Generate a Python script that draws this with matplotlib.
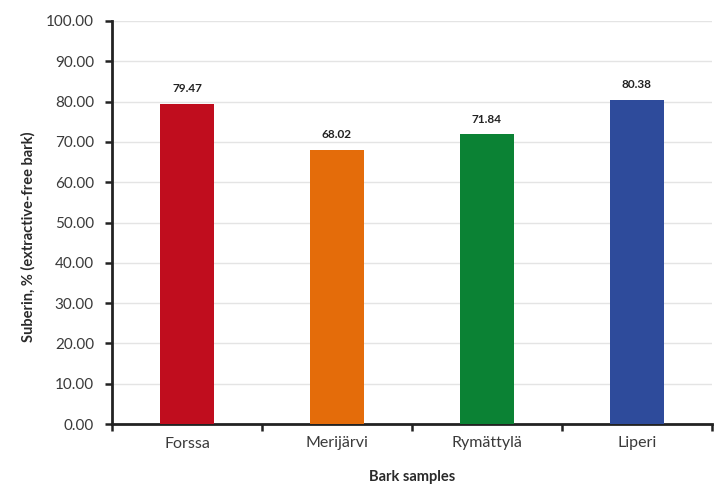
import matplotlib
matplotlib.use("Agg")
import matplotlib.pyplot as plt
from matplotlib.ticker import FixedLocator, NullFormatter

categories = ["Forssa", "Merijärvi", "Rymättylä", "Liperi"]
values = [79.47, 68.02, 71.84, 80.38]
colors = ["#C00D1E", "#E46C0A", "#0B8234", "#2E4B9B"]
y_ticks = [0, 10, 20, 30, 40, 50, 60, 70, 80, 90, 100]

plt.rcParams['font.family'] = ['Lato', 'DejaVu Sans']

fig = plt.figure(figsize=(7.19, 4.88), dpi=100)
ax = fig.add_axes([112/719, 1-424/488, 600/719, 403/488])

x = list(range(len(categories)))
bars = ax.bar(x, values, width=0.36, color=colors, zorder=3)
for xi, v in zip(x, values):
    ax.text(xi, v + 2.4, f"{v:.2f}", ha="center", va="bottom", fontsize=8.5, fontweight="bold", color="#222222")

ax.set_xlim(-0.5, len(categories) - 0.5)
ax.set_ylim(0, 100)
ax.set_yticks(y_ticks)
ax.set_yticklabels([f"{t:.2f}" for t in y_ticks], fontsize=11, color="#3A3A3A")
ax.set_xticks(x)
ax.set_xticklabels(categories, fontsize=11.5, color="#3A3A3A")
ax.tick_params(axis="x", which="major", length=0, pad=9)
ax.xaxis.set_minor_locator(FixedLocator([i - 0.5 for i in range(len(categories) + 1)]))
ax.xaxis.set_minor_formatter(NullFormatter())
ax.tick_params(axis="x", which="minor", length=5, width=1.8, color="#222222")
ax.tick_params(axis="y", length=5, width=1.8, color="#222222", pad=8)

ax.grid(axis="y", color="#E4E4E4", linewidth=1, zorder=0)
for s in ["top", "right"]:
    ax.spines[s].set_visible(False)
for s in ["left", "bottom"]:
    ax.spines[s].set_linewidth(2)
    ax.spines[s].set_color("#222222")

ax.set_ylabel("Suberin, % (extractive-free bark)", fontsize=10.5, fontweight="bold", color="#2A2A2A")
ax.yaxis.set_label_coords(-0.128, 0.464)
ax.set_xlabel("Bark samples", fontsize=10.5, fontweight="bold", color="#2A2A2A", labelpad=14)

fig.savefig("out.png", dpi=100)
